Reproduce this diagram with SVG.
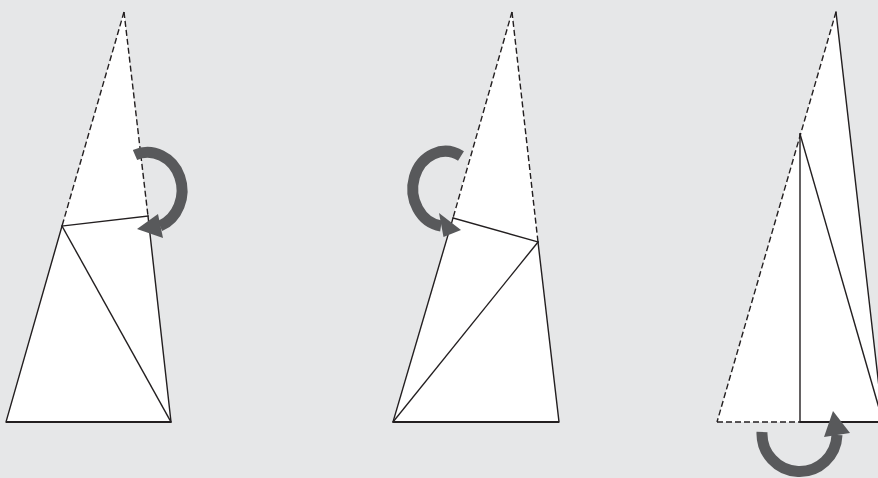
<svg xmlns="http://www.w3.org/2000/svg" width="878" height="478" viewBox="0 0 878 478">
  <style>
    .paper { fill: #ffffff; stroke: none; }
    .solid { fill: none; stroke: #231f20; stroke-width: 1.4; stroke-linecap: square; }
    .base { fill: none; stroke: #231f20; stroke-width: 1.9; }
    .dash { fill: none; stroke: #231f20; stroke-width: 1.4; stroke-dasharray: 6 3; }
    .arc { fill: none; stroke: #58595b; stroke-width: 11; }
    .head { fill: #58595b; stroke: none; }
  </style>
  <rect x="0" y="0" width="878" height="478" fill="#e6e7e8"/>

  <g id="fold-1">
    <polygon class="paper" points="124,12 6,422 171,422"/>
    <line class="dash" x1="124" y1="12" x2="62" y2="226"/>
    <line class="dash" x1="124" y1="12" x2="148" y2="216"/>
    <line class="solid" x1="62" y1="226" x2="6" y2="422"/>
    <line class="solid" x1="171" y1="422" x2="148" y2="216"/>
    <line class="solid" x1="148" y1="216" x2="62" y2="226"/>
    <line class="solid" x1="62" y1="226" x2="171" y2="422"/>
    <line class="base" x1="6" y1="422" x2="171" y2="422"/>
  </g>

  <g id="fold-2">
    <polygon class="paper" points="512,12 393,422 559,422"/>
    <line class="dash" x1="512" y1="12" x2="453" y2="218"/>
    <line class="dash" x1="512" y1="12" x2="538" y2="242"/>
    <line class="solid" x1="453" y1="218" x2="393" y2="422"/>
    <line class="solid" x1="559" y1="422" x2="538" y2="242"/>
    <line class="solid" x1="453" y1="218" x2="538" y2="242"/>
    <line class="solid" x1="393" y1="422" x2="538" y2="242"/>
    <line class="base" x1="393" y1="422" x2="559" y2="422"/>
  </g>

  <g id="fold-3">
    <polygon class="paper" points="836,12 717,422 883,422"/>
    <line class="dash" x1="836" y1="12" x2="717" y2="422"/>
    <line class="dash" x1="717" y1="422" x2="800" y2="422"/>
    <line class="solid" x1="836" y1="12" x2="883" y2="422"/>
    <line class="solid" x1="800" y1="134" x2="800" y2="422"/>
    <line class="solid" x1="800" y1="134" x2="883" y2="422"/>
    <line class="base" x1="800" y1="422" x2="883" y2="422"/>
  </g>

  <g id="arrows">
    <g id="arrow-1">
      <path class="arc" d="M135,155 A34,37.5 0 1 1 160,226"/>
      <polygon class="head" points="137,229 158,214 163,238"/>
    </g>
    <g id="arrow-2">
      <path class="arc" d="M461,156 A32.5,37.5 0 1 0 441,226"/>
      <polygon class="head" points="461,230 439,213 443.5,237"/>
    </g>
    <g id="arrow-3">
      <path class="arc" d="M762,432 A37.5,38 0 1 0 837,435"/>
      <polygon class="head" points="833,411 824,437 850,433"/>
    </g>
  </g>
</svg>
